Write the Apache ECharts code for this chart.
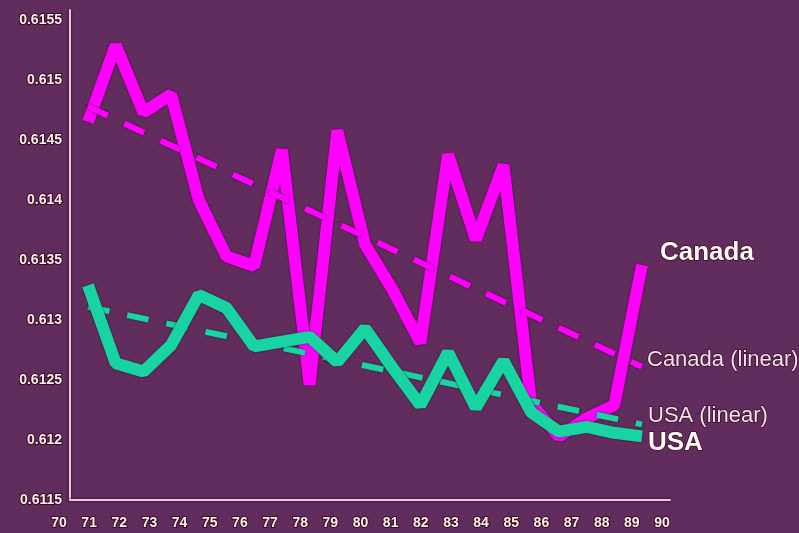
<!DOCTYPE html>
<html>
<head>
<meta charset="utf-8">
<script src="https://cdn.jsdelivr.net/npm/echarts@6/dist/echarts.min.js"></script>
<style>
html, body { margin: 0; padding: 0; background: #612d5f; }
#chart { width: 799px; height: 533px; }
</style>
</head>
<body>
<div id="chart"></div>
<script>

// data
const years = [70, 71, 72, 73, 74, 75, 76, 77, 78, 79, 80, 81, 82, 83, 84, 85, 86, 87, 88, 89, 90];
const canada = [0.61465, 0.61529, 0.61473, 0.61488, 0.6140, 0.61353, 0.61345, 0.61442, 0.61246, 0.61458, 0.61363,
                0.61325, 0.61281, 0.61438, 0.61367, 0.61429, 0.6123, 0.61203, 0.61218, 0.61229, 0.61346];
const usa = [0.61329, 0.61264, 0.61257, 0.61279, 0.61321, 0.6131, 0.61278, 0.61282, 0.61286, 0.61265, 0.61293,
             0.6126, 0.61229, 0.61273, 0.61227, 0.61266, 0.61223, 0.61207, 0.61211, 0.61206, 0.61203];

// trend lines, start and end
const trendYears = [70, 90];
const canadaLinear = [0.61478, 0.61261];
const usaLinear = [0.61311, 0.61213];

// axes
const yMin = 0.6115, yMax = 0.6155, yStep = 0.0005;
const xMin = 70, xMax = 90, xStep = 1;

function pairs(xs, ys) {
    return xs.map((x, i) => [x, ys[i]]);
}

// speckled purple like the old gif
function makeTexture() {
    const c = document.createElement('canvas');
    c.width = 8; c.height = 8;
    const g = c.getContext('2d');
    g.fillStyle = '#612d5f';
    g.fillRect(0, 0, 8, 8);
    g.fillStyle = '#7a2c4a';
    g.fillRect(1, 2, 1, 1);
    g.fillRect(5, 6, 1, 1);
    g.fillStyle = '#4e1c4c';
    g.fillRect(5, 1, 1, 1);
    g.fillRect(2, 5, 1, 1);
    return c;
}

const font = '"Liberation Sans", Arial, sans-serif';
const axisLine = {
    show: true,
    lineStyle: { color: '#ecc8d8', width: 2, shadowColor: '#2a0418', shadowBlur: 3 }
};

function endLabel(size, bold, color, distance, dy) {
    return {
        show: true,
        formatter: '{a}',
        fontFamily: font,
        fontSize: size,
        fontWeight: bold ? 'bold' : 'normal',
        color: color,
        textBorderColor: '#3a0b26',
        textBorderWidth: 1.5,
        distance: distance,
        offset: [0, dy]
    };
}

function line(name, data, color, width, dashed, label) {
    return {
        name: name,
        type: 'line',
        xAxisIndex: 2,
        yAxisIndex: 2,
        data: data,
        symbol: 'none',
        clip: false,
        lineStyle: {
            color: color,
            width: width,
            type: dashed ? [22, 18] : 'solid',
            join: 'bevel',
            shadowColor: 'rgba(40,0,25,0.8)',
            shadowBlur: 2
        },
        endLabel: label
    };
}

const chart = echarts.init(document.getElementById('chart'));

// the frame starts 10px above the top tick
const yTop = yMax + (yMax - yMin) * 10 / 480;

const option = {
    animation: false,
    backgroundColor: { image: makeTexture(), repeat: 'repeat' },
    grid: [
        { left: 70, top: 10, width: 600, height: 490 },   // frame + y labels
        { left: 59, top: 10, width: 603, height: 490 },   // x labels
        { left: 88, top: 20, width: 554, height: 480 }    // data
    ],
    xAxis: [
        {
            gridIndex: 0, type: 'value', min: 0, max: 1,
            axisLine: axisLine, axisTick: { show: false },
            axisLabel: { show: false }, splitLine: { show: false }
        },
        {
            gridIndex: 1, type: 'value', min: xMin, max: xMax, interval: xStep,
            axisLine: { show: false }, axisTick: { show: false }, splitLine: { show: false },
            axisLabel: {
                margin: 16, fontFamily: font, fontSize: 14, fontWeight: 'bold',
                color: '#fbf0e6', textBorderColor: '#3a0b26', textBorderWidth: 2
            }
        },
        {
            gridIndex: 2, type: 'value', min: xMin, max: xMax, show: false
        }
    ],
    yAxis: [
        {
            gridIndex: 0, type: 'value', min: yMin, max: yTop, interval: yStep,
            axisLine: axisLine, axisTick: { show: false }, splitLine: { show: false },
            axisLabel: {
                showMaxLabel: false,
                margin: 8, fontFamily: font, fontSize: 14, fontWeight: 'bold',
                color: '#fbf0e6', textBorderColor: '#3a0b26', textBorderWidth: 2,
                formatter: v => v > yMax + 1e-7 ? '' : String(parseFloat(v.toFixed(4)))
            }
        },
        {
            gridIndex: 1, type: 'value', min: yMin, max: yMax, show: false
        },
        {
            gridIndex: 2, type: 'value', min: yMin, max: yMax, show: false
        }
    ],
    series: [
        line('Canada', pairs(years, canada), '#ff00ff', 12, false,
             endLabel(26, true, '#fff8f0', 18, -12)),
        line('Canada (linear)', pairs(trendYears, canadaLinear), '#ff00ff', 6, true,
             endLabel(22, false, '#f3e3ea', 5, -7)),
        line('USA (linear)', pairs(trendYears, usaLinear), '#18d4a2', 6, true,
             endLabel(22, false, '#f3e3ea', 6, -8)),
        line('USA', pairs(years, usa), '#18d4a2', 12, false,
             endLabel(26, true, '#fff8f0', 6, 6))
    ]
};

chart.setOption(option);
</script>
</body>
</html>
